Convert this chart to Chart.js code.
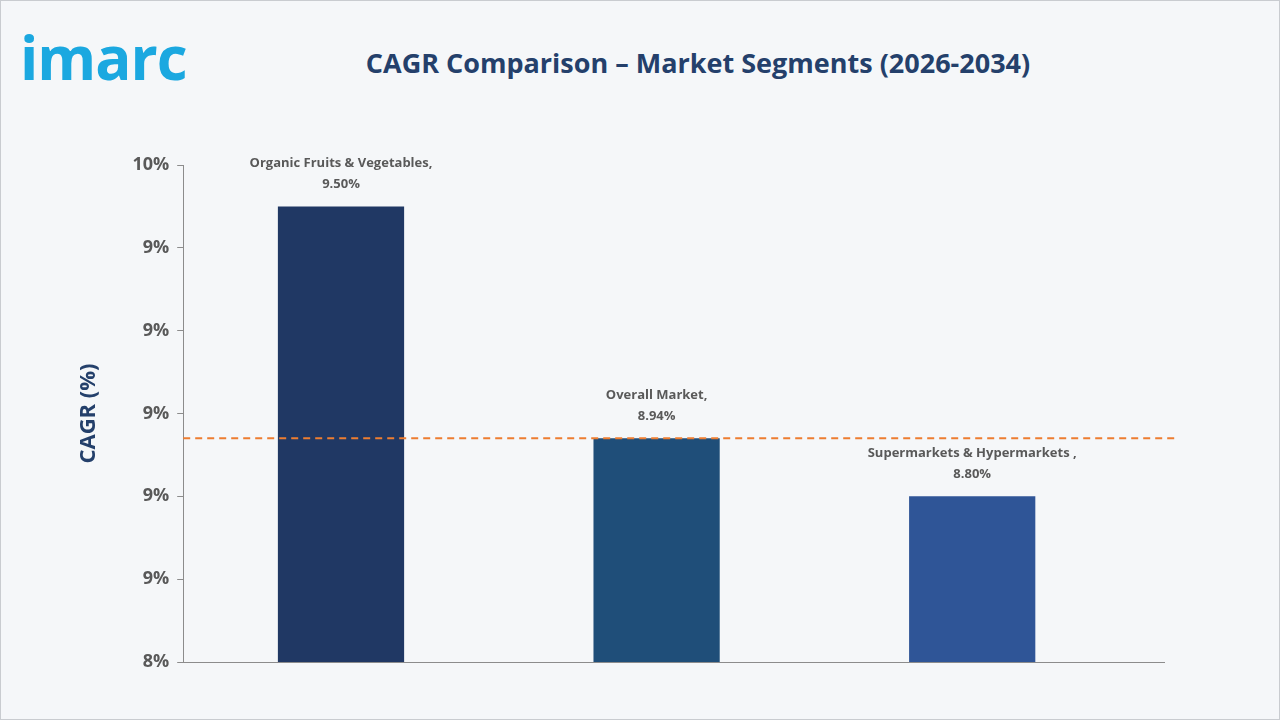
<!DOCTYPE html>
<html>
<head>
<meta charset="utf-8">
<script src="https://cdn.jsdelivr.net/npm/chart.js@4.4.0/dist/chart.umd.min.js"></script>
<style>
  html, body { margin: 0; padding: 0; }
  body { width: 1280px; height: 720px; background: #f5f7f9; font-family: "Open Sans", "Noto Sans", sans-serif; position: relative; overflow: hidden; }
  .frame { position: absolute; left: 0; top: 0; width: 1278px; height: 718px; border: 1px solid #c9ccd0; }
  .logo { position: absolute; left: 20px; top: 16px; font: bold 60px "Open Sans", sans-serif; color: #1ba8e0; letter-spacing: -1px; }
  .title { position: absolute; left: 0; width: 1396px; top: 44px; text-align: center; font: bold 27px "Open Sans", sans-serif; color: #24406b; }
  #wrap { position: absolute; left: 0; top: 0; width: 1280px; height: 720px; }
</style>
</head>
<body>
<div class="frame"></div>
<div class="logo">imarc</div>
<div class="title">CAGR Comparison – Market Segments (2026-2034)</div>
<div id="wrap"><canvas id="chart"></canvas></div>
<script>
const categories = ['Organic Fruits & Vegetables,', 'Overall Market,', 'Supermarkets & Hypermarkets ,'];
const cagrValues = [9.50, 8.94, 8.80];
const barColors = ['#203864', '#1f4e79', '#2f5597'];
const referenceLine = 8.94;

const labelPlugin = {
  id: 'labels',
  afterDatasetsDraw(chart) {
    const ctx = chart.ctx;
    const meta = chart.getDatasetMeta(0);
    const area = chart.chartArea;
    ctx.save();
    // extend the x axis line past the last category
    ctx.strokeStyle = '#8c8c8c';
    ctx.lineWidth = 1;
    ctx.beginPath();
    ctx.moveTo(area.right, area.bottom + 0.5);
    ctx.lineTo(area.right + 35, area.bottom + 0.5);
    ctx.stroke();

    ctx.fillStyle = '#595959';
    ctx.font = 'bold 13px "Open Sans", sans-serif';
    ctx.textAlign = 'center';
    meta.data.forEach((bar, i) => {
      ctx.fillText(categories[i], bar.x, bar.y - 39);
      ctx.fillText(cagrValues[i].toFixed(2) + '%', bar.x, bar.y - 18);
    });
    const y = chart.scales.y.getPixelForValue(referenceLine);
    ctx.strokeStyle = '#ed7d31';
    ctx.lineWidth = 2;
    ctx.setLineDash([7, 5]);
    ctx.beginPath();
    ctx.moveTo(area.left, y);
    ctx.lineTo(area.right + 45, y);
    ctx.stroke();
    ctx.restore();
  }
};

new Chart(document.getElementById('chart'), {
  type: 'bar',
  data: {
    labels: categories,
    datasets: [{ data: cagrValues, backgroundColor: barColors, barPercentage: 0.4, categoryPercentage: 1 }]
  },
  options: {
    responsive: true,
    maintainAspectRatio: false,
    animation: false,
    layout: { padding: { top: 165, right: 150, bottom: 50, left: 72 } },
    plugins: { legend: { display: false }, tooltip: { enabled: false } },
    scales: {
      x: {
        grid: { display: false },
        border: { color: '#8c8c8c' },
        ticks: { display: false }
      },
      y: {
        min: 8.4, max: 9.6,
        grid: { display: true, drawOnChartArea: false, drawTicks: true, tickLength: 6, color: '#8c8c8c' },
        border: { color: '#8c8c8c' },
        ticks: {
          stepSize: 0.2,
          color: '#595959',
          font: { size: 18, weight: 'bold', family: '"Open Sans", sans-serif' },
          padding: 8,
          callback: v => Math.round(v) + '%'
        },
        title: {
          display: true, text: 'CAGR (%)', color: '#24406b',
          font: { size: 22, weight: 'bold', family: '"Open Sans", sans-serif' },
          padding: { bottom: 22 }
        }
      }
    }
  },
  plugins: [labelPlugin]
});
</script>
</body>
</html>
